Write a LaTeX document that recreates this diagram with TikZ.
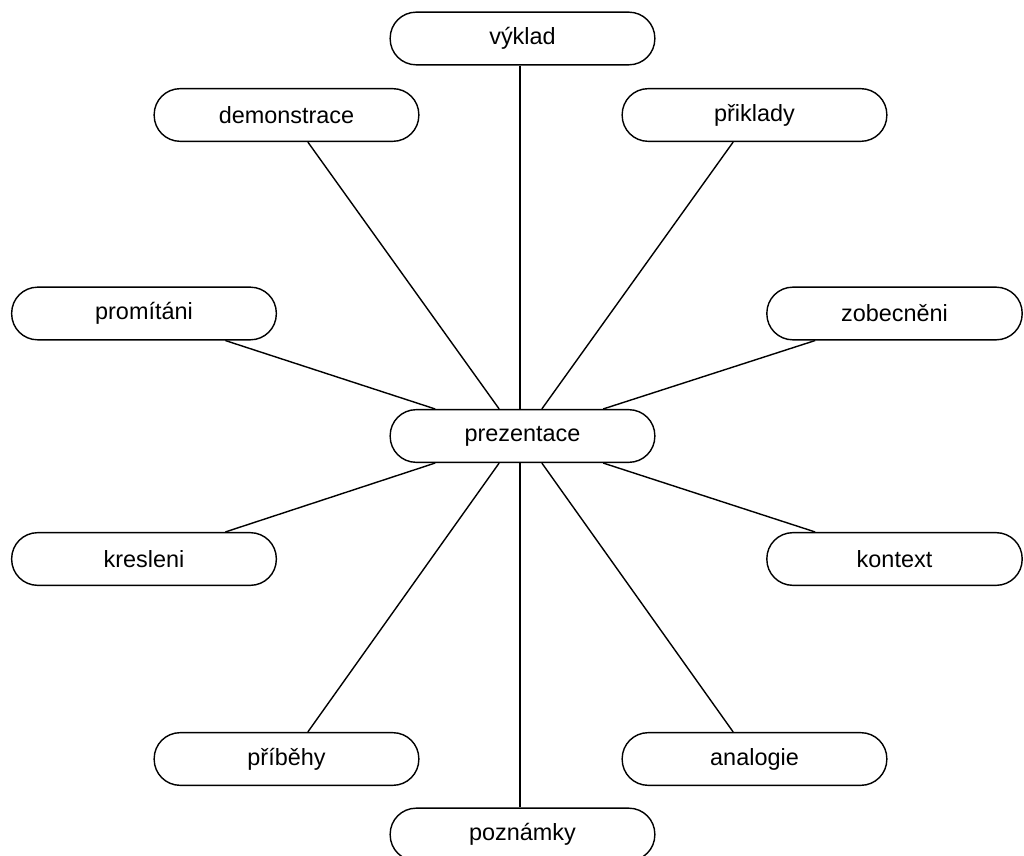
\documentclass[tikz,border=0pt]{standalone}
\usepackage{fontspec}
\setmainfont{Liberation Sans}
\usepackage{tikz}
\usetikzlibrary{positioning}
\tikzset{
    pill/.style={draw, line width=0.6pt, rectangle, rounded corners=0.39cm, minimum width=3.97cm, minimum height=0.79cm, inner sep=0pt, fill=white, font=\fontsize{10}{12}\selectfont},
    pillside/.style={pill, minimum width=3.83cm},
    link/.style={line width=0.6pt}
}
\begin{document}
\begin{tikzpicture}[x=0.015cm, y=-0.015cm]
    \useasboundingbox (0,0) rectangle (1024,856);
    % center
    \node[pill] (prez) at (522.5,436) {prezentace};
    % top half
    \node[pill] (vyklad) at (522.5,38.5) {výklad};
    \node[pill] (demo) at (286.5,115) {demonstrace};
    \node[pill] (prikl) at (754.5,115) {přiklady};
    \node[pill] (prom) at (144,313.5) {promítáni};
    \node[pillside] (zobec) at (894.5,313.5) {zobecněni};
    % bottom half
    \node[pill] (kresl) at (144,559) {kresleni};
    \node[pillside] (kont) at (894.5,559) {kontext};
    \node[pill] (pribeh) at (286.5,759) {příběhy};
    \node[pill] (analog) at (754.5,759) {analogie};
    \node[pill] (pozn) at (522.5,834.5) {poznámky};

    \draw[link] ([xshift=-0.04cm]vyklad.south) -- ([xshift=-0.04cm]prez.north);
    \draw[link] ([xshift=0.32cm]demo.south) -- ([xshift=-0.35cm]prez.north);
    \draw[link] ([xshift=-0.32cm]prikl.south) -- ([xshift=0.29cm]prez.north);
    \draw[link] ([xshift=1.22cm]prom.south) -- ([xshift=-1.31cm]prez.north);
    \draw[link] ([xshift=-1.19cm]zobec.south) -- ([xshift=1.21cm]prez.north);
    \draw[link] ([xshift=1.22cm]kresl.north) -- ([xshift=-1.31cm]prez.south);
    \draw[link] ([xshift=-1.19cm]kont.north) -- ([xshift=1.21cm]prez.south);
    \draw[link] ([xshift=0.32cm]pribeh.north) -- ([xshift=-0.35cm]prez.south);
    \draw[link] ([xshift=-0.32cm]analog.north) -- ([xshift=0.29cm]prez.south);
    \draw[link] ([xshift=-0.04cm]pozn.north) -- ([xshift=-0.04cm]prez.south);
\end{tikzpicture}
\end{document}
